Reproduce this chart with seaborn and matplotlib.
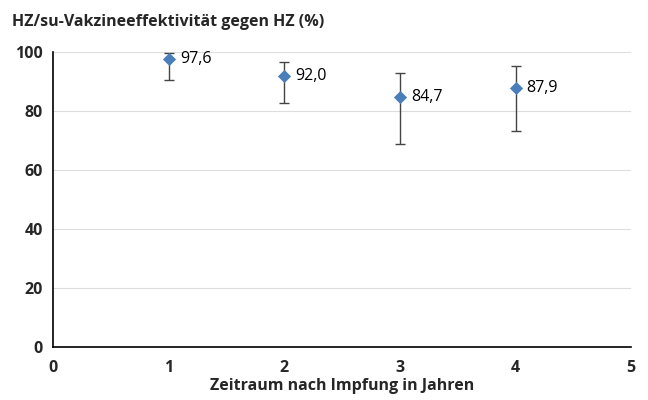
import pandas as pd
import seaborn as sns
import matplotlib.pyplot as plt

# Daten
jahre = [1, 2, 3, 4]
wirksamkeit = [97.6, 92.0, 84.7, 87.9]
ki_unten = [90.5, 82.6, 68.8, 73.3]
ki_oben = [99.5, 96.6, 92.9, 95.1]
beschriftung = ["97,6", "92,0", "84,7", "87,9"]

df = pd.DataFrame({"Jahr": jahre, "VE": wirksamkeit})

sns.set_theme(style="white")
plt.rcParams["font.family"] = ["Open Sans", "DejaVu Sans"]

fig = plt.figure(figsize=(6.48, 4.0), dpi=100)
ax = fig.add_axes([0.082, 0.1325, 0.892, 0.7375])

yerr = [[v - u for v, u in zip(wirksamkeit, ki_unten)],
        [o - v for v, o in zip(wirksamkeit, ki_oben)]]
ax.errorbar(jahre, wirksamkeit, yerr=yerr, fmt="none", ecolor="#444444",
            elinewidth=1.0, capsize=3.5, capthick=1, zorder=2)
sns.scatterplot(data=df, x="Jahr", y="VE", marker="D", s=45, color="#4a7ebb",
                edgecolor="#4a7ebb", linewidth=0, ax=ax, zorder=3)

for x, y, t in zip(jahre, wirksamkeit, beschriftung):
    ax.annotate(t, (x, y), xytext=(8, 0), textcoords="offset points",
                va="center", ha="left", fontsize=11.5, color="black")

ax.set_xlim(0, 5)
ax.set_ylim(0, 100)
ax.set_xticks(range(0, 6))
ax.set_yticks(range(0, 101, 20))
ax.yaxis.grid(True, color="#dddddd", linewidth=0.8)
ax.set_axisbelow(True)
for s in ["top", "right"]:
    ax.spines[s].set_visible(False)
for s in ["left", "bottom"]:
    ax.spines[s].set_color("black")
    ax.spines[s].set_linewidth(1.2)
ax.tick_params(axis="both", length=4, color="#aaaaaa", width=1, labelsize=11.5)
for lbl in ax.get_xticklabels() + ax.get_yticklabels():
    lbl.set_fontweight("bold")
ax.tick_params(axis="x", pad=5)

ax.set_xlabel("Zeitraum nach Impfung in Jahren", fontsize=11.5, fontweight="bold", labelpad=2)
ax.set_ylabel("")
fig.text(0.018, 0.965, "HZ/su-Vakzineeffektivität gegen HZ (%)", fontsize=11.5,
         fontweight="bold", ha="left", va="top")

plt.savefig("out.png", dpi=100)
